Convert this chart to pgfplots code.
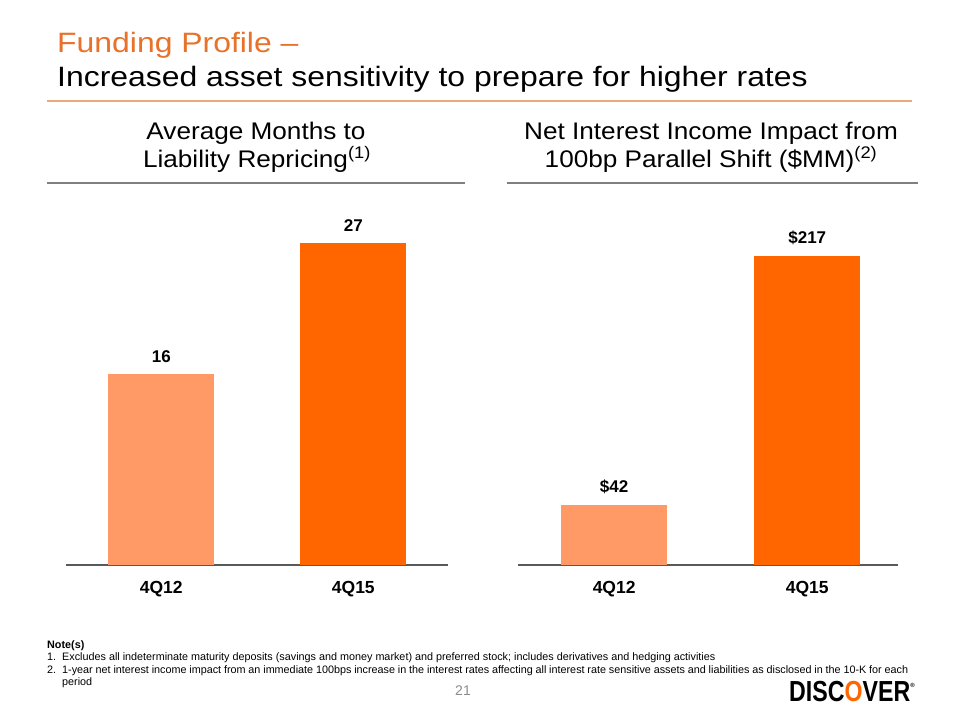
\documentclass[border=0pt]{standalone}
\usepackage{pgfplots}
\pgfplotsset{compat=1.18}
\usepackage{fontspec}
\setmainfont{Liberation Sans}
\newfontfamily\titlefont[FakeStretch=1.14]{Liberation Sans}
\newfontfamily\subfont[FakeStretch=1.09]{Liberation Sans}
\definecolor{lightor}{RGB}{255,153,102}
\definecolor{darkor}{RGB}{255,102,0}
\definecolor{titleor}{RGB}{232,114,42}
\definecolor{ruleor}{RGB}{235,170,125}
\definecolor{subrule}{RGB}{128,128,128}
\begin{document}
\begin{tikzpicture}
\path[use as bounding box, fill=white] (0,0) rectangle (960pt,720pt);
% title
\node[anchor=base west, inner sep=0pt, text=titleor, font=\titlefont\fontsize{28}{28}\selectfont] at (57pt,667pt) {Funding Profile –};
\node[anchor=base west, inner sep=0pt, text=black, font=\titlefont\fontsize{28}{28}\selectfont] at (57pt,633pt) {Increased asset sensitivity to prepare for higher rates};
\draw[ruleor, line width=1.6pt] (47pt,619pt) -- (912pt,619pt);
% subtitles
\node[anchor=base, inner sep=0pt, font=\subfont\fontsize{24}{24}\selectfont] at (256pt,580pt) {Average Months to};
\node[anchor=base, inner sep=0pt, font=\subfont\fontsize{24}{24}\selectfont] at (257pt,552pt) {Liability Repricing\textsuperscript{(1)}};
\node[anchor=base, inner sep=0pt, font=\subfont\fontsize{24}{24}\selectfont] at (711pt,580pt) {Net Interest Income Impact from};
\node[anchor=base, inner sep=0pt, font=\subfont\fontsize{24}{24}\selectfont] at (711pt,552pt) {100bp Parallel Shift (\$MM)\textsuperscript{(2)}};
\draw[subrule, line width=2.6pt] (47pt,537pt) -- (465pt,537pt);
\draw[subrule, line width=2.6pt] (507pt,537pt) -- (918pt,537pt);
% left chart
\begin{axis}[
  at={(66pt,155pt)}, anchor=south west,
  scale only axis, width=382pt, height=365pt,
  xmin=-0.496, xmax=1.493, ymin=0, ymax=30.57,
  ybar, bar width=106pt, bar shift=0pt,
  axis x line=bottom, axis y line=none,
  x axis line style={-, line width=1.2pt, color=black!65},
  xtick={0,1}, xticklabels={4Q12,4Q15}, major tick length=0pt,
  xticklabel style={font=\fontsize{17.5}{17.5}\selectfont\bfseries, inner sep=0pt, anchor=north, yshift=-16pt},
  nodes near coords,
  every node near coord/.append style={font=\fontsize{17}{17}\selectfont\bfseries, inner sep=0pt, anchor=south, yshift=11pt},
  /pgf/number format/assume math mode=true,
  clip=false,
]
\addplot[fill=lightor, draw=none] coordinates {(0,16)};
\addplot[fill=darkor, draw=none] coordinates {(1,27)};
\end{axis}
% right chart
\begin{axis}[
  at={(518pt,155pt)}, anchor=south west,
  scale only axis, width=380pt, height=365pt,
  xmin=-0.498, xmax=1.470, ymin=0, ymax=256,
  ybar, bar width=106pt, bar shift=0pt,
  axis x line=bottom, axis y line=none,
  x axis line style={-, line width=1.2pt, color=black!65},
  xtick={0,1}, xticklabels={4Q12,4Q15}, major tick length=0pt,
  xticklabel style={font=\fontsize{17.5}{17.5}\selectfont\bfseries, inner sep=0pt, anchor=north, yshift=-16pt},
  nodes near coords={\$\pgfmathprintnumber{\pgfplotspointmeta}},
  every node near coord/.append style={font=\fontsize{17}{17}\selectfont\bfseries, inner sep=0pt, anchor=south, yshift=11pt},
  /pgf/number format/assume math mode=true,
  clip=false,
]
\addplot[fill=lightor, draw=none] coordinates {(0,42)};
\addplot[fill=darkor, draw=none] coordinates {(1,217)};
\end{axis}
% notes
\node[anchor=north west, inner sep=0pt, text width=861pt, align=justify, font=\fontsize{10.8}{12.6}\selectfont] at (47pt,80pt) {%
\textbf{Note(s)}\par
\noindent\hangindent=15pt\hangafter=1\makebox[15pt][l]{1.}Excludes all indeterminate maturity deposits (savings and money market) and preferred stock; includes derivatives and hedging activities\par
\noindent\hangindent=15pt\hangafter=1\makebox[15pt][l]{2.}1-year net interest income impact from an immediate 100bps increase in the interest rates affecting all interest rate sensitive assets and liabilities as disclosed in the 10-K for each\linebreak period\par};
% page number
\node[anchor=base, inner sep=0pt, text=black!45, font=\fontsize{14}{14}\selectfont] at (463pt,25pt) {21};
% logo
\node[anchor=base west, inner sep=0pt, font=\fontsize{29}{29}\selectfont\bfseries] at (789pt,19pt) {\scalebox{0.8}[1]{DISC{\color{darkor}O}VER}\raisebox{14pt}{\fontsize{6}{6}\selectfont ®}};
\end{tikzpicture}
\end{document}
